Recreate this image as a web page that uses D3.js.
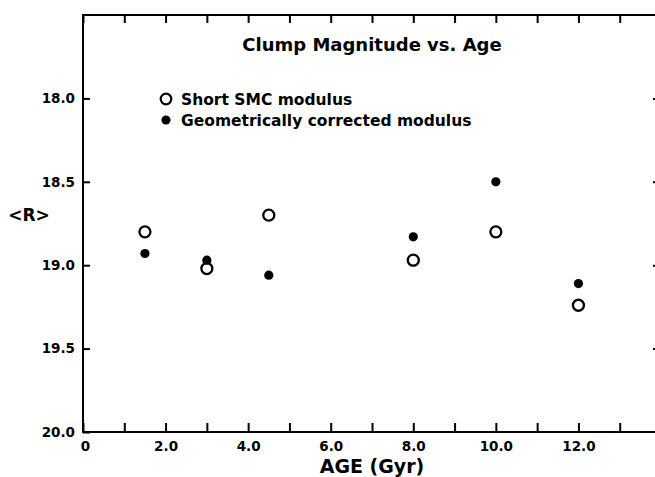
<!DOCTYPE html>
<html><head><meta charset="utf-8">
<script src="https://cdn.jsdelivr.net/npm/d3@7/dist/d3.min.js"></script>
<style>body{margin:0;background:#fff}svg{display:block}text{font-family:"DejaVu Sans",sans-serif;font-weight:bold;fill:#000}</style>
</head><body><svg id="c" width="655" height="477"></svg>
<script>
const ages = [1.5, 3.0, 4.5, 8.0, 10.0, 12.0];
const shortSMC = [18.80, 19.02, 18.70, 18.97, 18.80, 19.24];
const geomCorrected = [18.93, 18.97, 19.06, 18.83, 18.50, 19.11];
const xTicks = [0,1,2,3,4,5,6,7,8,9,10,11,12,13];
const xTickLabels = {0:"0",2:"2.0",4:"4.0",6:"6.0",8:"8.0",10:"10.0",12:"12.0"};
const yTicks = [18.0, 18.5, 19.0, 19.5, 20.0];
const yTickLabels = ["18.0","18.5","19.0","19.5","20.0"];

const svg = d3.select("#c");
const L = 83, R = 661, T = 15, B = 432;
const x = d3.scaleLinear().domain([0,14]).range([L,R]);
const y = d3.scaleLinear().domain([17.5,20.0]).range([T,B]);

// frame
svg.append("rect").attr("x",L).attr("y",T).attr("width",R-L).attr("height",B-T)
  .attr("fill","none").attr("stroke","#000").attr("stroke-width",2);

// bottom axis
const xb = svg.append("g").attr("transform",`translate(0,${B})`)
  .call(d3.axisBottom(x).tickValues(xTicks).tickSize(-9).tickPadding(9)
    .tickFormat(d => xTickLabels[d] || ""));
xb.select(".domain").remove();
xb.selectAll("line").attr("stroke","#000").attr("stroke-width",2);
xb.selectAll("text").attr("font-size",13.5).attr("dy","0.71em")
  .attr("dx", d => d===0 ? 2 : 0);

// top axis ticks
const xt = svg.append("g").attr("transform",`translate(0,${T})`)
  .call(d3.axisTop(x).tickValues(xTicks).tickSize(-8).tickFormat(""));
xt.select(".domain").remove();
xt.selectAll("line").attr("stroke","#000").attr("stroke-width",2);

// left axis
const yl = svg.append("g").attr("transform",`translate(${L},0)`)
  .call(d3.axisLeft(y).tickValues(yTicks).tickSize(-7).tickPadding(8)
    .tickFormat((d,i) => yTickLabels[i]));
yl.select(".domain").remove();
yl.selectAll("line").attr("stroke","#000").attr("stroke-width",2);
yl.selectAll("text").attr("font-size",13.5);

// right axis ticks
const yr = svg.append("g").attr("transform",`translate(${R},0)`)
  .call(d3.axisRight(y).tickValues(yTicks.slice(0,4)).tickSize(-8).tickFormat(""));
yr.select(".domain").remove();
yr.selectAll("line").attr("stroke","#000").attr("stroke-width",2);

// labels
svg.append("text").attr("x",(L+R)/2).attr("y",51).attr("text-anchor","middle")
  .attr("font-size",18).text("Clump Magnitude vs. Age");
svg.append("text").attr("x",(L+R)/2).attr("y",473).attr("text-anchor","middle")
  .attr("font-size",19).text("AGE (Gyr)");
svg.append("text").attr("x",29).attr("y",221).attr("text-anchor","middle")
  .attr("font-size",17).text("<R>");

// legend
svg.append("circle").attr("cx",166).attr("cy",99).attr("r",5.3)
  .attr("fill","none").attr("stroke","#000").attr("stroke-width",2.2);
svg.append("text").attr("x",181).attr("y",104.5).attr("font-size",15.5).text("Short SMC modulus");
svg.append("circle").attr("cx",166).attr("cy",120).attr("r",4.6).attr("fill","#000");
svg.append("text").attr("x",181).attr("y",125.5).attr("font-size",15.5).text("Geometrically corrected modulus");

// data
svg.append("g").selectAll("circle").data(ages).join("circle")
  .attr("cx",d=>x(d)).attr("cy",(d,i)=>y(shortSMC[i])).attr("r",5.5)
  .attr("fill","none").attr("stroke","#000").attr("stroke-width",2.3);
svg.append("g").selectAll("circle").data(ages).join("circle")
  .attr("cx",d=>x(d)).attr("cy",(d,i)=>y(geomCorrected[i])).attr("r",4.6)
  .attr("fill","#000");
</script></body></html>
